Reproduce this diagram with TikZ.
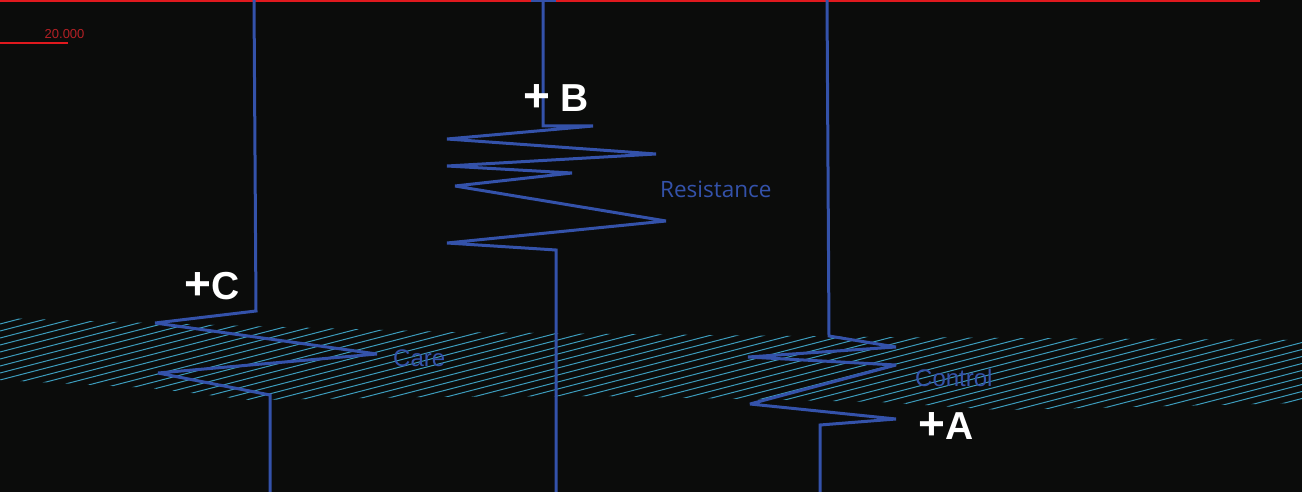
\documentclass[tikz,border=0pt]{standalone}
\usepackage{fontspec}
\setmainfont{Liberation Sans}
\newfontfamily\opensans{Open Sans}
\definecolor{bg}{HTML}{0B0C0B}
\definecolor{wire}{HTML}{3452AA}
\definecolor{hatch}{HTML}{3C9CBC}
\definecolor{redline}{HTML}{E0191E}
\definecolor{redtext}{HTML}{B42025}
\newcommand{\bigplus}{{\fontsize{46}{46}\selectfont+}}
\tikzset{
  wireline/.style={draw=wire, line width=3pt, line join=miter, miter limit=4, line cap=butt},
  biglabel/.style={text=white, font=\fontsize{39}{39}\selectfont\bfseries, inner sep=0pt, anchor=base west},
  bluelabel/.style={text=wire, font=\fontsize{24}{24}\selectfont, inner sep=0pt, anchor=base west},
  hatchline/.style={draw=hatch, line width=1pt}
}
\begin{document}
\begin{tikzpicture}[x=1pt,y=-1pt]
\fill[bg] (0,0) rectangle (1302,492);
\useasboundingbox (0,0) rectangle (1302,492);
% hatched band
\begin{scope}
  \clip (0,318) -- (150,323) -- (450,332) -- (880,337) -- (1302,340) -- (1302,403)
        -- (1000,410) -- (880,402) -- (600,396) -- (430,397) -- (250,400) -- (150,388) -- (0,380) -- cycle;
  \foreach \c in {310,317,...,750} {
    \draw[hatchline] (0,\c) -- (1302,\c-338.5);
  }
\end{scope}
% red scale lines
\draw[redline, line width=2.2pt] (0,1) -- (1260,1);
\draw[redline, line width=1.4pt] (0,43) -- (68,43);
\node[text=redtext, font=\fontsize{13}{13}\selectfont, inner sep=0pt, anchor=base west] (scale) at (44.5,38.5) {20.000};
% line C
\draw[wireline] (254,0) -- (256,311) -- (155,323) -- (377,354) -- (158,373) -- (270,395) -- (270,492);
% line B
\draw[draw=wire, line width=2pt] (531,1) -- (556,1);
\draw[wireline] (543,0) -- (543,126) -- (593,126) -- (447,139) -- (656,154) -- (447,166)
   -- (572,173) -- (455,186) -- (666,221) -- (447,243) -- (556,250) -- (556,492);
% line A
\draw[wireline] (827,0) -- (829,336) -- (896,347) -- (748,357) -- (896,365) -- (750,404)
   -- (896,419) -- (820,425) -- (820,492);
% labels
\node[biglabel] (labB) at (523,112) {\bigplus{} B};
\node[biglabel] (labC) at (184,299) {\bigplus C};
\node[biglabel] (labA) at (918,439) {\bigplus A};
\node[bluelabel, font=\opensans\fontsize{22.5}{22.5}\selectfont] (res) at (660,197) {Resistance};
\node[bluelabel] (care) at (393,366) {Care};
\node[bluelabel] (ctrl) at (915,386) {Control};
\end{tikzpicture}
\end{document}
